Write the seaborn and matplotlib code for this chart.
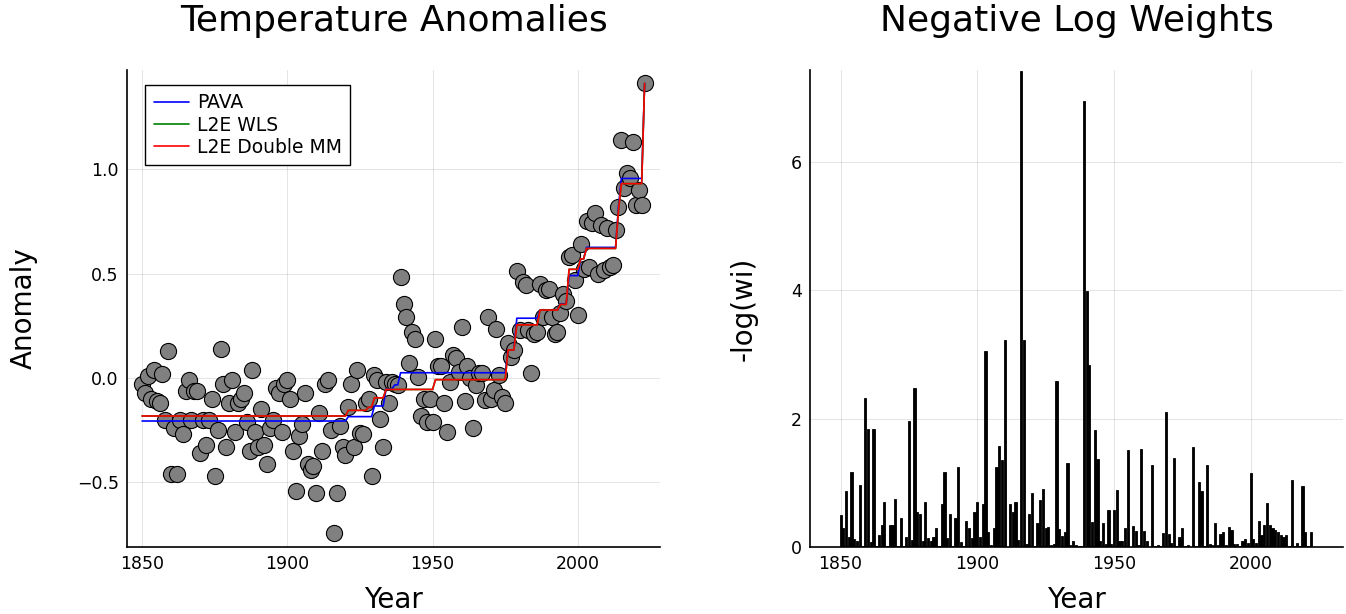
import numpy as np
import pandas as pd
import matplotlib
matplotlib.use("Agg")
import matplotlib.pyplot as plt
import seaborn as sns

# ---------------- data ----------------
years = np.arange(1850, 2024)

anomaly = [
    -0.03, -0.07, 0.01, -0.10, 0.04, -0.11, -0.12, 0.02, -0.20, 0.13,
    -0.46, -0.24, -0.46, -0.20, -0.27, -0.06, -0.01, -0.20, -0.06, -0.06,
    -0.36, -0.20, -0.32, -0.20, -0.10, -0.47, -0.25, 0.14, -0.03, -0.33,
    -0.12, -0.01, -0.26, -0.12, -0.10, -0.07, -0.21, -0.35, 0.04, -0.26,
    -0.33, -0.15, -0.32, -0.41, -0.24, -0.20, -0.05, -0.07, -0.26, -0.03,
    -0.01, -0.10, -0.35, -0.54, -0.28, -0.22, -0.07, -0.41, -0.44, -0.42,
    -0.55, -0.17, -0.35, -0.03, -0.01, -0.25, -0.74, -0.55, -0.23, -0.33,
    -0.37, -0.14, -0.03, -0.33, 0.04, -0.265, -0.27, -0.12, -0.10, -0.47,
    0.013, -0.01, -0.195, -0.33, -0.02, -0.12, -0.02, -0.03, -0.035, 0.485,
    0.354, 0.29, 0.073, 0.222, 0.185, 0.006, -0.18, -0.10, -0.21, -0.10,
    -0.21, 0.185, 0.055, 0.055, -0.12, -0.26, -0.017, 0.11, 0.094, 0.03,
    0.245, -0.11, 0.055, 0.0, -0.24, -0.035, 0.025, 0.022, -0.105, 0.29,
    -0.10, -0.057, 0.233, 0.014, -0.09, -0.12, 0.166, 0.10, 0.134, 0.51,
    0.23, 0.46, 0.445, 0.23, 0.022, 0.21, 0.22, 0.45, 0.29, 0.42,
    0.425, 0.29, 0.21, 0.22, 0.31, 0.40, 0.37, 0.58, 0.59, 0.47,
    0.30, 0.64, 0.52, 0.75, 0.53, 0.74, 0.79, 0.50, 0.73, 0.515,
    0.72, 0.53, 0.54, 0.71, 0.82, 1.14, 0.91, 0.98, 0.955, 1.13,
    0.83, 0.90, 0.83, 1.41,
]

neg_log_w = [
    0.50, 0.30, 0.88, 0.16, 1.17, 0.12, 0.09, 0.97, 0.01, 2.32,
    1.84, 0.08, 1.84, 0.01, 0.18, 0.35, 0.70, 0.01, 0.35, 0.35,
    0.75, 0.01, 0.45, 0.01, 0.16, 1.97, 0.11, 2.47, 0.55, 0.52,
    0.09, 0.70, 0.14, 0.09, 0.16, 0.30, 0.02, 0.67, 1.17, 0.14,
    0.52, 0.02, 0.45, 1.24, 0.08, 0.01, 0.41, 0.30, 0.14, 0.55,
    0.70, 0.16, 0.67, 3.05, 0.23, 0.03, 0.30, 1.24, 1.58, 1.35,
    3.22, 0.00, 0.67, 0.55, 0.70, 0.11, 7.41, 3.22, 0.05, 0.52,
    0.84, 0.01, 0.37, 0.73, 0.91, 0.29, 0.31, 0.03, 0.04, 2.59,
    0.28, 0.17, 0.24, 1.31, 0.03, 0.10, 0.03, 0.01, 0.01, 6.94,
    3.98, 2.83, 0.39, 1.83, 1.37, 0.09, 0.37, 0.05, 0.57, 0.05,
    0.57, 0.89, 0.09, 0.09, 0.30, 1.51, 0.00, 0.33, 0.25, 0.03,
    1.52, 0.25, 0.09, 0.00, 1.28, 0.02, 0.03, 0.02, 0.22, 2.11,
    0.20, 0.06, 1.38, 0.01, 0.16, 0.30, 0.02, 0.03, 0.00, 1.56,
    0.01, 1.01, 0.87, 0.01, 1.28, 0.05, 0.03, 0.37, 0.03, 0.21,
    0.24, 0.03, 0.31, 0.26, 0.04, 0.05, 0.01, 0.09, 0.12, 0.06,
    1.15, 0.12, 0.06, 0.40, 0.19, 0.34, 0.69, 0.34, 0.29, 0.26,
    0.24, 0.19, 0.15, 0.19, 0.01, 1.05, 0.01, 0.06, 0.01, 0.95,
    0.24, 0.02, 0.24, 0.00,
]

# step fits: levels and the number of consecutive years at each level
pava_levels = [-0.206, -0.185, -0.134, -0.053, -0.033, 0.025, 0.134, 0.286,
               0.325, 0.355, 0.49, 0.57, 0.625, 0.82, 0.955, 1.41]
pava_runs = [71, 9, 4, 3, 2, 37, 3, 8, 7, 3, 4, 2, 11, 1, 8, 1]

wls_levels = [-0.182, -0.155, -0.14, -0.095, -0.055, -0.008, 0.134, 0.254,
              0.325, 0.352, 0.52, 0.57, 0.62, 0.80, 0.93, 1.41]
wls_runs = [71, 7, 2, 4, 17, 25, 3, 8, 7, 3, 4, 2, 11, 1, 8, 1]

dmm_levels = [-0.182, -0.155, -0.14, -0.095, -0.055, -0.008, 0.134, 0.254,
              0.325, 0.352, 0.52, 0.57, 0.62, 0.80, 0.93, 1.41]
dmm_runs = [71, 7, 2, 4, 17, 25, 3, 8, 7, 3, 4, 2, 11, 1, 8, 1]

df = pd.DataFrame({
    "Year": years,
    "Anomaly": anomaly,
    "NegLogW": neg_log_w,
    "PAVA": np.repeat(pava_levels, pava_runs),
    "L2E WLS": np.repeat(wls_levels, wls_runs),
    "L2E Double MM": np.repeat(dmm_levels, dmm_runs),
})

# ---------------- figure ----------------
sns.set_theme(style="white")
plt.rcParams["font.family"] = ["DejaVu Sans"]
plt.rcParams["axes.unicode_minus"] = True
plt.rcParams["text.color"] = "black"
plt.rcParams["axes.labelcolor"] = "black"
plt.rcParams["xtick.color"] = "black"
plt.rcParams["ytick.color"] = "black"

W, H = 1346, 614
fig = plt.figure(figsize=(W / 100, H / 100), dpi=100)
ax1 = fig.add_axes([127 / W, 1 - 547 / H, 533 / W, 477 / H])
ax2 = fig.add_axes([810 / W, 1 - 547 / H, 533 / W, 477 / H])

grid_kw = dict(color="black", alpha=0.1, linewidth=0.8)

# ---- left panel ----
sns.scatterplot(data=df, x="Year", y="Anomaly", ax=ax1, s=135, color="#808080",
                edgecolor="black", linewidth=0.8, legend=False, zorder=2)
sns.lineplot(data=df, x="Year", y="PAVA", ax=ax1, color="#0000ff", linewidth=1.2,
             label="PAVA", estimator=None, zorder=3)
sns.lineplot(data=df, x="Year", y="L2E WLS", ax=ax1, color="#008000", linewidth=1.2,
             label="L2E WLS", estimator=None, zorder=3)
sns.lineplot(data=df, x="Year", y="L2E Double MM", ax=ax1, color="#ff0000", linewidth=1.2,
             label="L2E Double MM", estimator=None, zorder=3)

ax1.set_xlim(1844.8, 2028.3)
ax1.set_ylim(-0.809, 1.474)
ax1.set_xticks([1850, 1900, 1950, 2000])
ax1.set_yticks([-0.5, 0.0, 0.5, 1.0])
ax1.set_yticklabels(["\u22120.5", "0.0", "0.5", "1.0"])
ax1.grid(True, **grid_kw)
ax1.set_axisbelow(True)
ax1.set_title("Temperature Anomalies", fontsize=26, pad=28, color="black")
ax1.set_xlabel("Year", fontsize=20)
ax1.set_ylabel("Anomaly", fontsize=20)
ax1.xaxis.set_label_coords(0.5, -0.082)
ax1.yaxis.set_label_coords(-0.168, 0.5)
leg = ax1.legend(loc="upper left", bbox_to_anchor=(0.034, 0.969), borderaxespad=0,
                 fontsize=13.5, frameon=True, fancybox=False, edgecolor="black",
                 framealpha=1, handlelength=1.9, handletextpad=0.4,
                 labelspacing=0.18, borderpad=0.45)
leg.get_frame().set_linewidth(1.0)

# ---- right panel ----
sns.histplot(data=df, x="Year", weights="NegLogW", discrete=True, shrink=0.8,
             color="black", edgecolor="black", linewidth=0.6, alpha=1.0, ax=ax2)
ax2.set_xlim(1838.8, 2033.8)
ax2.set_ylim(0, 7.43)
ax2.set_xticks([1850, 1900, 1950, 2000])
ax2.set_yticks([0, 2, 4, 6])
ax2.grid(True, **grid_kw)
ax2.set_axisbelow(True)
ax2.set_title("Negative Log Weights", fontsize=26, pad=28, color="black")
ax2.set_xlabel("Year", fontsize=20)
ax2.set_ylabel("-log(wi)", fontsize=20)
ax2.xaxis.set_label_coords(0.5, -0.082)
ax2.yaxis.set_label_coords(-0.098, 0.5)

for ax in (ax1, ax2):
    for s in ("top", "right"):
        ax.spines[s].set_visible(False)
    for s in ("left", "bottom"):
        ax.spines[s].set_color("black")
        ax.spines[s].set_linewidth(1.2)
    ax.tick_params(direction="in", length=4, width=1, labelsize=12.5, colors="black",
                   pad=6)

fig.savefig("out.png", dpi=100)
